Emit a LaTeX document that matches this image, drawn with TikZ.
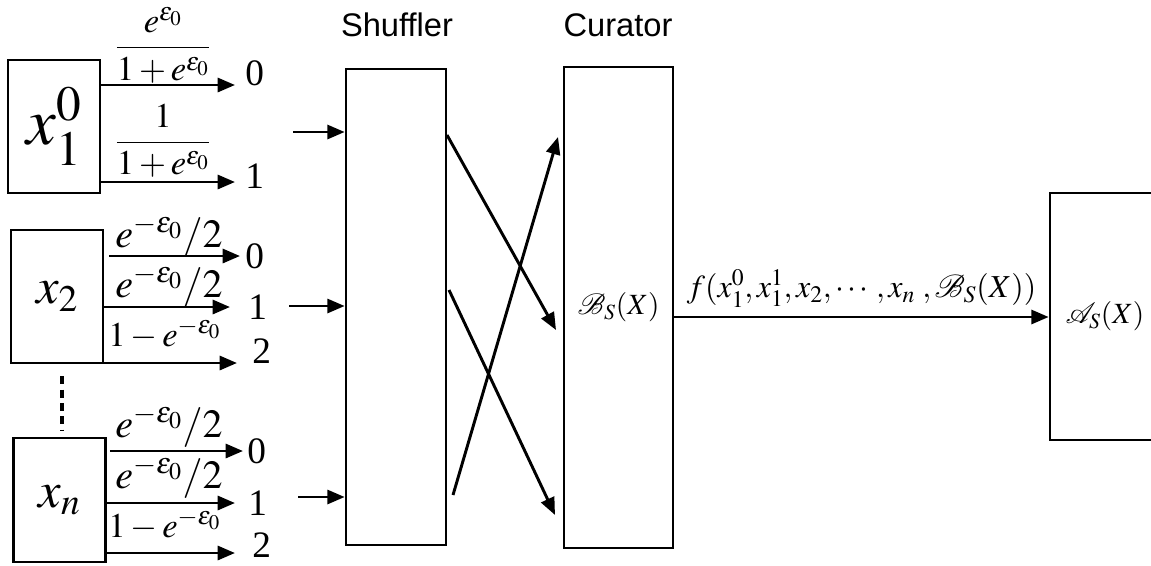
\documentclass[tikz,border=0pt]{standalone}
\usepackage{amsmath}
\usepackage{mathptmx}
\usepackage{fontspec}
\setmainfont{Liberation Serif}
\setsansfont{Liberation Sans}
\usetikzlibrary{positioning, arrows.meta, calc}
\tikzset{
    box/.style={
        draw=black,
        line width=2pt,
        inner sep=0pt
    },
    user/.style={
        box,
        minimum width=69pt,
        minimum height=99.75pt
    },
    digit/.style={
        font=\fontsize{28}{28}\selectfont,
        inner sep=0pt
    },
    frac/.style={
        font=\fontsize{26}{26}\selectfont,
        inner sep=0pt
    },
    half/.style={
        font=\fontsize{30}{30}\selectfont,
        inner sep=0pt
    },
    rest/.style={
        font=\fontsize{26}{26}\selectfont,
        inner sep=0pt
    },
    title/.style={
        font=\sffamily\fontsize{24.5}{25}\selectfont
    }
}

\begin{document}
\begin{tikzpicture}[
        x=0.75pt, y=-0.75pt,
        ->, >={Triangle[length=13pt,width=10.5pt]},
        line width=2.2pt
      ]
      \useasboundingbox (0,0) rectangle (1151,565);

      % users
      \node[user] (b1) at (54,126.5) {\fontsize{50}{50}\selectfont$x_1^0$};
      \node[user] (b2) at (57,296.5) {\fontsize{38}{38}\selectfont$x_2$};
      \node[user, minimum height=93pt] (bn) at (59.5,500) {\fontsize{38}{38}\selectfont$x_n$};
      \draw[-, line width=3pt, dash pattern=on 6pt off 4pt] ($(b2.south)+(5,12)$) -- ($(bn.north)+(2.5,-6)$);

      % first user
      \node[digit, anchor=base west] (d10) at (244,85) {0};
      \node[digit, anchor=base west] (d11) at (244,188) {1};
      \draw (b1.east |- d10.base west) -- ($(d10.base west)+(-9,0)$);
      \draw ($(b1.east |- d11.base west)+(0,-6)$) -- ($(d11.base west)+(-9,-6)$);
      \node[frac] (p10) at (163,45) {$\dfrac{e^{\varepsilon_0}}{1+e^{\varepsilon_0}}$};
      \node[frac] (p11) at (163,141) {$\dfrac{1}{1+e^{\varepsilon_0}}$};

      % second user
      \node[digit, anchor=west] (d20) at (244,256) {0};
      \node[digit, anchor=west] (d21) at (247,307) {1};
      \node[digit, anchor=base west] (d22) at (251,363) {2};
      \draw ($(b2.east |- d20.west)+(5,0)$) -- ($(d20.west)+(-4,0)$);
      \draw (b2.east |- d21.west) -- ($(d21.west)+(-17,0)$);
      \draw (b2.east |- d22.base west) -- ($(d22.base west)+(-14,0)$);
      \node[half, anchor=base] (p20) at (169,247) {$e^{-\varepsilon_0}/2$};
      \node[half, anchor=base] (p21) at (169,297) {$e^{-\varepsilon_0}/2$};
      \node[rest, anchor=base] (p22) at (164.5,346) {$1-e^{-\varepsilon_0}$};

      % n-th user
      \node[digit, anchor=west] (dn0) at (246,451) {0};
      \node[digit, anchor=west] (dn1) at (247,503) {1};
      \node[digit, anchor=base west] (dn2) at (251,557) {2};
      \draw ($(bn.east |- dn0.west)+(3,0)$) -- ($(dn0.west)+(-3,0)$);
      \draw (bn.east |- dn1.west) -- ($(dn1.west)+(-12,0)$);
      \draw ($(bn.east |- dn2.base west)+(0,-4)$) -- ($(dn2.base west)+(-16,-4)$);
      \node[half, anchor=base] (pn0) at (169,437) {$e^{-\varepsilon_0}/2$};
      \node[half, anchor=base] (pn1) at (169,488) {$e^{-\varepsilon_0}/2$};
      \node[rest, anchor=base] (pn2) at (164.5,537) {$1-e^{-\varepsilon_0}$};

      % shuffler and curator
      \node[box, minimum width=75pt, minimum height=357pt] (shuf) at (396,307) {};
      \node[box, minimum width=81.75pt, minimum height=360.75pt, font=\fontsize{22}{22}\selectfont] (cur) at (618.5,307.5) {$\mathcal{B}_S(X)$};
      \node[title] (tshuf) at (397,25) {Shuffler};
      \node[title] (tcur) at (618,25) {Curator};

      \coordinate (in1) at (293,132);
      \coordinate (in2) at (289,306);
      \coordinate (in3) at (298,497);
      \foreach \c in {in1,in2,in3}
        \draw (\c) -- (shuf.west |- \c);

      \coordinate (s1) at (447,135);
      \coordinate (c1) at (556,330);
      \coordinate (s2) at (449,290);
      \coordinate (c2) at (555,515);
      \coordinate (s3) at (453,495);
      \coordinate (c3) at (558,137);
      \draw (s1) -- (c1);
      \draw (s2) -- (c2);
      \draw (s3) -- (c3);

      % analyst
      \node[box, minimum width=82.5pt, minimum height=185.25pt, font=\fontsize{22}{22}\selectfont] (adv) at (1105,316.5) {$\mathcal{A}_S(X)$};
      \coordinate (fy) at (0,317);
      \draw (cur.east |- fy) -- (adv.west |- fy)
        node[midway, above=3pt, font=\fontsize{24}{24}\selectfont] (flab) {$f(x_1^0, x_1^1, x_2, \cdots, x_n\;, \mathcal{B}_S(X))$};
    \end{tikzpicture}
\end{document}
